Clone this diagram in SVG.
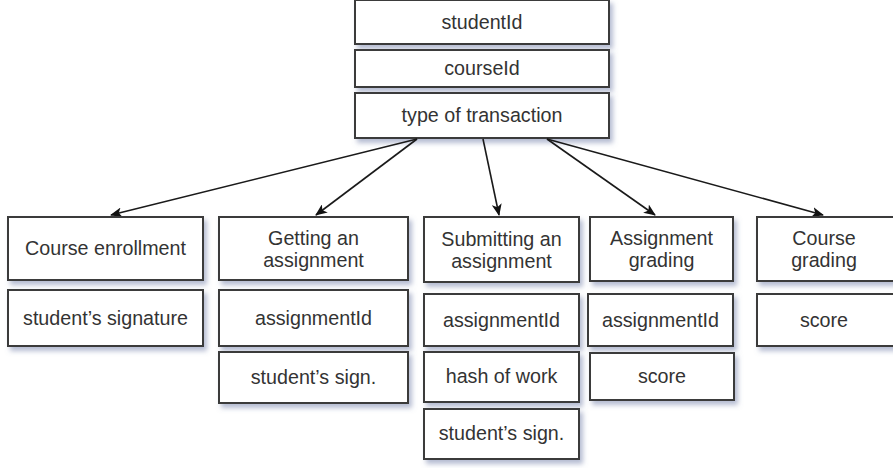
<svg xmlns="http://www.w3.org/2000/svg" width="893" height="468" viewBox="0 0 893 468">
  <defs>
    <filter id="shadow" x="-10%" y="-20%" width="130%" height="160%">
      <feDropShadow dx="3" dy="4" stdDeviation="2.5" flood-color="#6a7aa4" flood-opacity="0.5"/>
    </filter>
    <marker id="arrow" viewBox="0 0 12 10" refX="11" refY="5" markerWidth="12" markerHeight="10" markerUnits="userSpaceOnUse" orient="auto">
      <path d="M0,0 L12,5 L0,10 L3,5 Z" fill="#111"/>
    </marker>
  </defs>
  <style>
    .box { fill: #ffffff; stroke: #3a3a3a; stroke-width: 2; filter: url(#shadow); }
    .lbl { font-family: "Liberation Sans", Arial, sans-serif; font-size: 19.7px; fill: #333333; text-anchor: middle; }
    .edge { stroke: #1a1a1a; stroke-width: 1.6; fill: none; marker-end: url(#arrow); }
  </style>
  <rect width="893" height="468" fill="#ffffff"/>

  <!-- transaction header -->
  <g id="header">
    <g id="studentId">
      <rect class="box" x="355" y="0" width="254" height="44"/>
      <text class="lbl" x="482" y="29">studentId</text>
    </g>
    <g id="courseId">
      <rect class="box" x="355" y="50" width="254" height="37"/>
      <text class="lbl" x="482" y="75">courseId</text>
    </g>
    <g id="txType">
      <rect class="box" x="355" y="93" width="254" height="45"/>
      <text class="lbl" x="482" y="122">type of transaction</text>
    </g>
  </g>

  <!-- connectors -->
  <g id="connectors">
    <line class="edge" x1="417" y1="139" x2="111" y2="215"/>
    <line class="edge" x1="417" y1="139" x2="316" y2="215"/>
    <line class="edge" x1="483" y1="139" x2="499" y2="215"/>
    <line class="edge" x1="547" y1="139" x2="655" y2="215"/>
    <line class="edge" x1="547" y1="139" x2="823" y2="215"/>
  </g>

  <!-- course enrollment -->
  <g id="enroll">
    <rect class="box" x="8" y="217" width="195" height="63"/>
    <text class="lbl" x="105.5" y="255">Course enrollment</text>
  </g>
  <g id="enrollSig">
    <rect class="box" x="8" y="290" width="195" height="56"/>
    <text class="lbl" x="105.5" y="325">student’s signature</text>
  </g>

  <!-- getting an assignment -->
  <g id="getAssign">
    <rect class="box" x="219" y="217" width="189" height="63"/>
    <text class="lbl" x="313.5" y="245">Getting an</text>
    <text class="lbl" x="313.5" y="267">assignment</text>
  </g>
  <g id="getAssignId">
    <rect class="box" x="219" y="290" width="189" height="56"/>
    <text class="lbl" x="313.5" y="325">assignmentId</text>
  </g>
  <g id="getAssignSig">
    <rect class="box" x="219" y="352" width="189" height="51"/>
    <text class="lbl" x="313.5" y="384">student’s sign.</text>
  </g>

  <!-- submitting an assignment -->
  <g id="submit">
    <rect class="box" x="424" y="217" width="155" height="65"/>
    <text class="lbl" x="501.5" y="246">Submitting an</text>
    <text class="lbl" x="501.5" y="268">assignment</text>
  </g>
  <g id="submitAssignId">
    <rect class="box" x="424" y="294" width="155" height="52"/>
    <text class="lbl" x="501.5" y="327">assignmentId</text>
  </g>
  <g id="submitHash">
    <rect class="box" x="424" y="352" width="155" height="50"/>
    <text class="lbl" x="501.5" y="383">hash of work</text>
  </g>
  <g id="submitSig">
    <rect class="box" x="424" y="409" width="155" height="50"/>
    <text class="lbl" x="501.5" y="440">student’s sign.</text>
  </g>

  <!-- assignment grading -->
  <g id="gradeAssign">
    <rect class="box" x="590" y="217" width="143" height="64"/>
    <text class="lbl" x="661.5" y="245">Assignment</text>
    <text class="lbl" x="661.5" y="267">grading</text>
  </g>
  <g id="gradeAssignId">
    <rect class="box" x="588" y="294" width="145" height="52"/>
    <text class="lbl" x="660.5" y="327">assignmentId</text>
  </g>
  <g id="gradeAssignScore">
    <rect class="box" x="590" y="353" width="144" height="47"/>
    <text class="lbl" x="662" y="383">score</text>
  </g>

  <!-- course grading -->
  <g id="gradeCourse">
    <rect class="box" x="757" y="217" width="150" height="64"/>
    <text class="lbl" x="824" y="245">Course</text>
    <text class="lbl" x="824" y="267">grading</text>
  </g>
  <g id="gradeCourseScore">
    <rect class="box" x="757" y="294" width="150" height="52"/>
    <text class="lbl" x="824" y="327">score</text>
  </g>
</svg>
